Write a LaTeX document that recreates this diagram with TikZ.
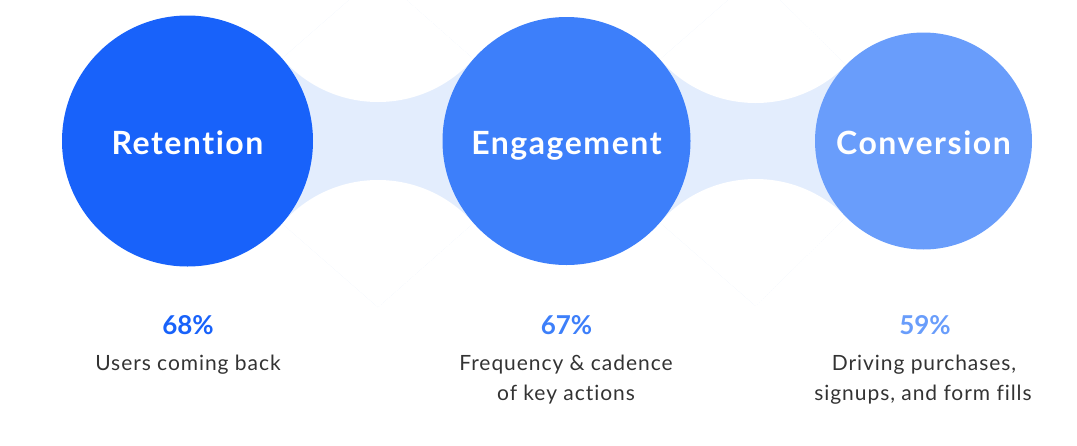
\documentclass[tikz,border=0pt]{standalone}
\usepackage{fontspec}
\setmainfont{Lato}[Ligatures=NoCommon]
\newfontfamily\titlefont{Lato}[LetterSpace=4.8, Ligatures=NoCommon]
\newfontfamily\bodyfont{Lato}[LetterSpace=4.5, Ligatures=NoCommon]
\definecolor{cA}{HTML}{1862FA}
\definecolor{cB}{HTML}{3D7FFA}
\definecolor{cC}{HTML}{699DFB}
\definecolor{bridge}{HTML}{E3EDFD}
\definecolor{body}{HTML}{333333}
\tikzset{
  bubble/.style={circle, inner sep=0pt, text=white, font=\titlefont\fontsize{32}{36}\selectfont\bfseries, text height=26pt, text depth=0pt},
  pct/.style={anchor=base, font=\fontsize{26}{30}\selectfont\bfseries},
  desc/.style={anchor=base, text=body, font=\bodyfont\fontsize{21}{30}\selectfont, align=center},
}
\begin{document}
\begin{tikzpicture}[x=1pt, y=-1pt]
\useasboundingbox (0,0) rectangle (1077,445);
% arc-circle centres for the bridges
\coordinate (A) at (187.5,141);
\coordinate (B) at (566.5,141);
\coordinate (C) at (923.5,141);
\coordinate (T1) at (378,-25.3);
\coordinate (D1) at (378,307.3);
\coordinate (T2) at (755.6,-24);
\coordinate (D2) at (755.6,306);
% bridge 1
\begin{scope}
  \clip (A) -- (T1) -- (B) -- (D1) -- cycle;
  \fill[bridge] (A) -- (T1) -- (B) -- (D1) -- cycle;
  \fill[white] (T1) circle (127.3) (D1) circle (127.3);
\end{scope}
% bridge 2
\begin{scope}
  \clip (B) -- (T2) -- (C) -- (D2) -- cycle;
  \fill[bridge] (B) -- (T2) -- (C) -- (D2) -- cycle;
  \fill[white] (T2) circle (127) (D2) circle (127);
\end{scope}
% circles
\node[bubble, fill=cA, minimum size=251pt] (ret) at (A) {Retention};
\node[bubble, fill=cB, minimum size=248pt] (eng) at (B) {Engagement};
\node[bubble, fill=cC, minimum size=217pt] (con) at (C) {Conversion};
% labels
\node[pct, text=cA] (p1) at (188,334) {68\%};
\node[pct, text=cB] (p2) at (566.5,334) {67\%};
\node[pct, text=cC] (p3) at (925,334) {59\%};
\node[desc] (d1) at (188,370) {Users coming back};
\node[desc] (d2a) at (566,370) {Frequency \& cadence};
\node[desc] (d2b) at (566,400) {of key actions};
\node[desc] (d3a) at (924,370) {Driving purchases,};
\node[desc] (d3b) at (923,400) {signups, and form fills};
\end{tikzpicture}
\end{document}
